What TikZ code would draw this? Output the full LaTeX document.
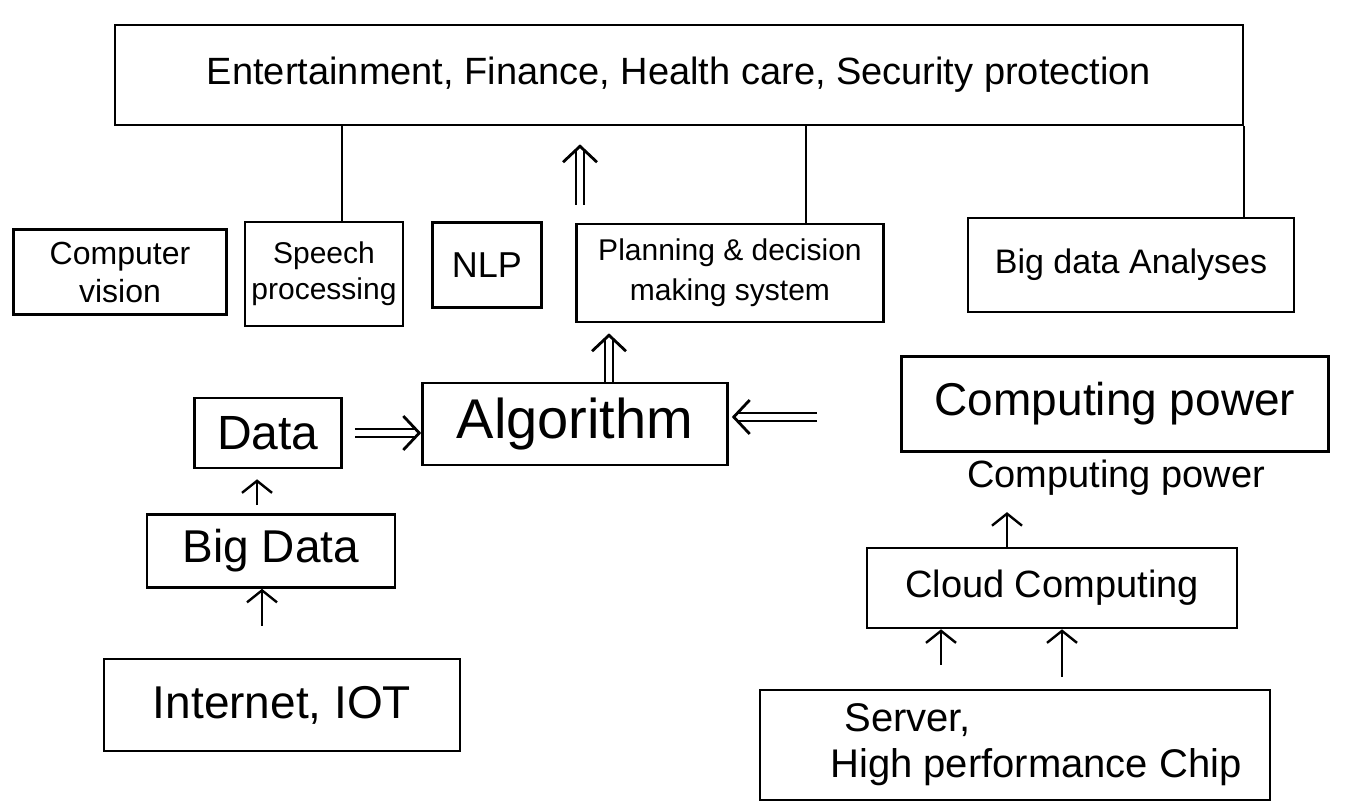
\documentclass[tikz,border=0pt]{standalone}
\usepackage{fontspec}
\setmainfont{Liberation Sans}
\usetikzlibrary{arrows.meta,calc}
\newcommand\fsz[2]{\fontsize{#1}{#2}\selectfont}
\newcommand\darrow[2]{\draw[dshaft] (#1) -- (#2); \draw[dhead] ($(#2)!1pt!(#1)$) -- (#2);}
\begin{document}
\begin{tikzpicture}[x=0.5pt,y=-0.5pt,
  box/.style={draw, line width=1.3pt, inner sep=0pt, align=center},
  sz/.style 2 args={minimum width=#1*0.5pt, minimum height=#2*0.5pt},
  conn/.style={line width=1.1pt},
  arr/.style={line width=1.2pt, -{Straight Barb[length=6pt,width=15pt]}},
  dshaft/.style={double, double distance=3.2pt, line width=1.1pt, shorten >=2.5pt},
  dhead/.style={line width=0.01pt, -{Straight Barb[length=8pt,width=17pt,line width=1.4pt]}}]
\useasboundingbox (0,0) rectangle (1346,808);
\fill[white] (0,0) rectangle (1346,808);

% nodes
\node[box, sz={1128}{100}, font=\fsz{19}{23}] (top) at (679,75) {Entertainment, Finance, Health care, Security protection};
\node[box, sz={213}{85}, font=\fsz{16}{19}] (cv) at (120,272) {Computer\\vision};
\node[box, sz={158}{104}, font=\fsz{15}{18}] (sp) at (324,274) {Speech\\processing};
\node[box, sz={109}{85}, font=\fsz{18}{21}] (nlp) at (487,265) {NLP};
\node[box, sz={307}{98}, font=\fsz{15}{20}] (plan) at (730,273) {Planning \& decision\\making system};
\node[box, sz={326}{94}, font=\fsz{17}{20}] (bda) at (1131,265) {Big data Analyses};
\node[box, sz={147}{70}, font=\fsz{24}{28}] (data) at (268,433) {Data};
\node[box, sz={305}{82}, font=\fsz{28}{32}] (alg) at (575,424) {Algorithm};
\node[box, sz={427}{95}, font=\fsz{23}{27}] (cp) at (1115,404) {Computing power};
\node[font=\fsz{19}{22}, inner sep=0pt] (cpt) at (1116,478) {Computing power};
\node[box, sz={370}{80}, font=\fsz{19}{22}] (cloud) at (1052,588) {Cloud Computing};
\node[box, sz={510}{110}, font=\fsz{20}{23}, align=left] (srv) at (1015,745) {\hspace*{8pt}Server,\\\hspace*{1pt}High performance Chip\hspace*{-20pt}};
\node[box, sz={248}{73}, font=\fsz{23}{27}] (bd) at (271,551) {Big Data};
\node[box, sz={356}{92}, font=\fsz{23}{27}] (iot) at (282,705) {Internet, IOT};

% helper coordinates
\coordinate (x1) at (342,0);
\coordinate (x2) at (806,0);
\coordinate (x4) at (580,0);
\coordinate (x5) at (609,0);
\coordinate (x6) at (257,0);
\coordinate (x7) at (262,0);
\coordinate (x8) at (1007,0);
\coordinate (x9) at (941,0);
\coordinate (x10) at (1062,0);
\coordinate (y1) at (0,417);

% plain connectors
\draw[conn] (top.south -| x1) -- (sp.north -| x1);
\draw[conn] (top.south -| x2) -- (plan.north -| x2);
\draw[conn] (top.south east) -- (bda.north -| top.south east);

% double arrows
\coordinate (a1s) at ($(plan.north -| x4)+(0,-18)$);
\coordinate (a1e) at ($(top.south -| x4)+(0,18)$);
\darrow{a1s}{a1e}
\coordinate (a2s) at (alg.north -| x5);
\coordinate (a2e) at ($(plan.south -| x5)+(0,10)$);
\darrow{a2s}{a2e}
\coordinate (a3s) at ($(data.east)+(12,0)$);
\coordinate (a3e) at (data.east -| alg.west);
\darrow{a3s}{a3e}
\coordinate (a4s) at ($(cp.west |- y1)+(-83,0)$);
\coordinate (a4e) at ($(alg.east |- y1)+(3,0)$);
\darrow{a4s}{a4e}

% single arrows
\draw[arr, shorten <=4pt, shorten >=5pt] (bd.north -| x6) -- (data.south -| x6);
\draw[arr, shorten <=16pt] (iot.north -| x7) -- (bd.south -| x7);
\draw[arr, shorten >=8pt] (cloud.north -| x8) -- (cpt.south -| x8);
\draw[arr, shorten <=12pt] (srv.north -| x9) -- (cloud.south -| x9);
\draw[arr, shorten <=6pt] (srv.north -| x10) -- (cloud.south -| x10);
\end{tikzpicture}
\end{document}
